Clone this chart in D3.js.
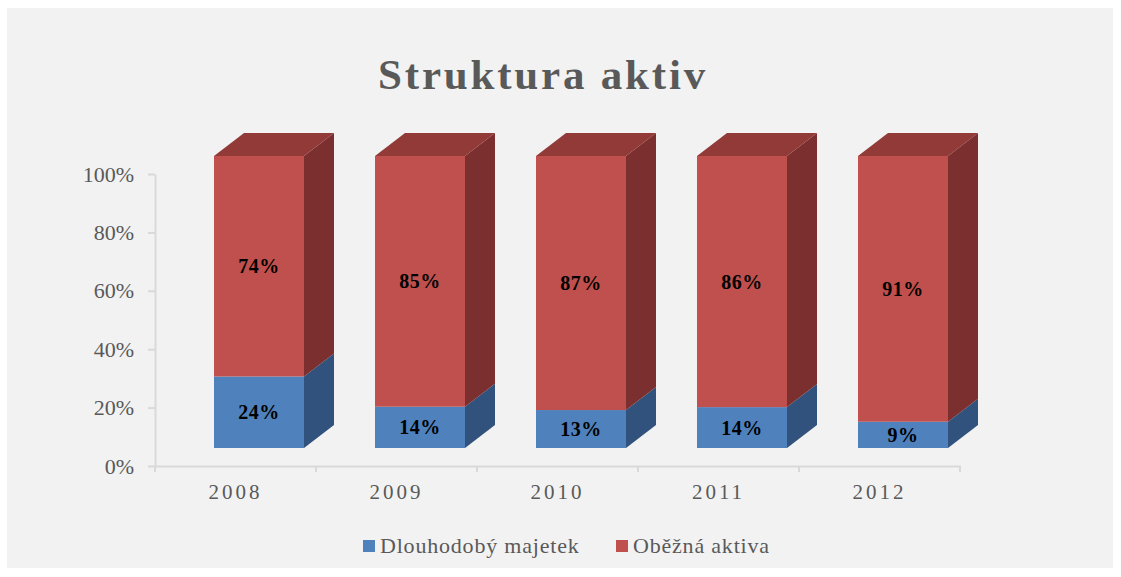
<!DOCTYPE html>
<html>
<head>
<meta charset="utf-8">
<script src="https://cdn.jsdelivr.net/npm/d3@7"></script>
<style>
    body { margin: 0; background: #fff; }
    svg { display: block; font-family: "Liberation Serif", "Times New Roman", serif; }
</style>
</head>
<body>
<svg></svg>
<script>
const roky = ["2008", "2009", "2010", "2011", "2012"]
const dlouhodobyMajetek = [24, 14, 13, 14, 9]
const obeznaAktiva = [74, 85, 87, 86, 91]
const serie = ["Dlouhodobý majetek", "Oběžná aktiva"]
const osaY = [0, 0.2, 0.4, 0.6, 0.8, 1]

const width = 1121
const height = 577
const svg = d3.select('svg')
    .attr("width", width)
    .attr("height", height)

// barvy: predni stena, bok, vrch
const barvy = {
    "Dlouhodobý majetek": { front: "#4f81bd", side: "#31527c", top: "#3d6596" },
    "Oběžná aktiva": { front: "#c0504d", side: "#7b2f2f", top: "#913a38" }
}

svg.append("rect")
    .attr("x", 7).attr("y", 8)
    .attr("width", 1106).attr("height", 560)
    .attr("fill", "#f2f2f2")

svg.append("text")
    .attr("x", 543).attr("y", 89)
    .attr("text-anchor", "middle")
    .attr("font-size", 43)
    .attr("font-weight", "bold")
    .attr("letter-spacing", 2.8)
    .attr("fill", "#595959")
    .text("Struktura aktiv")

const data = roky.map((rok, i) => ({
    rok: rok,
    "Dlouhodobý majetek": dlouhodobyMajetek[i],
    "Oběžná aktiva": obeznaAktiva[i]
}))

const stack = d3.stack()
    .keys(serie)
    .offset(d3.stackOffsetExpand)
const vrstvy = stack(data)

const x = d3.scaleBand()
    .domain(roky)
    .range([155, 960])

const y = d3.scaleLinear()
    .domain([0, 1])
    .range([466, 174])

// 3D posun
const hloubka = { dx: 30, dy: 23 }
const podlaha = { dx: 23.5, dy: -18 }
const sirka = 90

// osy
const gY = svg.append("g")
    .attr("transform", `translate(${x.range()[0]},0)`)
    .call(d3.axisLeft(y).tickValues(osaY).tickFormat(d3.format(".0%")).tickSize(7).tickSizeOuter(0).tickPadding(14))
gY.selectAll("text")
    .attr("font-size", 22)
    .attr("font-family", "Liberation Serif, serif")
    .attr("fill", "#595959")

const gX = svg.append("g")
    .attr("transform", `translate(0,${y(0)})`)
    .call(d3.axisBottom(x).tickSize(0).tickSizeOuter(0).tickPadding(18))
gX.selectAll("text")
    .attr("font-size", 21)
    .attr("font-family", "Liberation Serif, serif")
    .attr("letter-spacing", 3)
    .attr("fill", "#595959")

gX.selectAll(".hranice")
    .data([...roky.map(r => x(r)), x.range()[1]])
    .enter().append("line")
    .attr("class", "hranice")
    .attr("x1", d => d).attr("x2", d => d)
    .attr("y1", 0).attr("y2", 6)

svg.selectAll(".domain, .tick line, .hranice")
    .attr("stroke", "#d9d9d9")
    .attr("stroke-width", 2)

// sloupce
const fx0 = d => x(d.data.rok) + x.bandwidth() / 2 + podlaha.dx - sirka / 2
const fx1 = d => fx0(d) + sirka
const fy = v => y(v) + podlaha.dy

const skupiny = svg.selectAll(".vrstva")
    .data(vrstvy)
    .enter().append("g")
    .attr("class", "vrstva")

skupiny.selectAll(".bok")
    .data(v => v.map(d => ({ d: d, key: v.key })))
    .enter().append("polygon")
    .attr("fill", s => barvy[s.key].side)
    .attr("points", s => {
        const x1 = fx1(s.d), yb = fy(s.d[0]), yt = fy(s.d[1])
        return [[x1, yb], [x1 + hloubka.dx, yb - hloubka.dy], [x1 + hloubka.dx, yt - hloubka.dy], [x1, yt]].join(" ")
    })

skupiny.selectAll(".vrch")
    .data(v => v.filter(d => d[1] >= 0.999).map(d => ({ d: d, key: v.key })))
    .enter().append("polygon")
    .attr("fill", s => barvy[s.key].top)
    .attr("points", s => {
        const x0 = fx0(s.d), x1 = fx1(s.d), yt = fy(s.d[1])
        return [[x0, yt], [x0 + hloubka.dx, yt - hloubka.dy], [x1 + hloubka.dx, yt - hloubka.dy], [x1, yt]].join(" ")
    })

skupiny.selectAll(".predek")
    .data(v => v.map(d => ({ d: d, key: v.key })))
    .enter().append("rect")
    .attr("x", s => fx0(s.d))
    .attr("y", s => fy(s.d[1]))
    .attr("width", sirka)
    .attr("height", s => fy(s.d[0]) - fy(s.d[1]))
    .attr("fill", s => barvy[s.key].front)

skupiny.selectAll(".popisek")
    .data(v => v.map(d => ({ d: d, key: v.key })))
    .enter().append("text")
    .attr("x", s => fx0(s.d) + sirka / 2)
    .attr("y", s => (fy(s.d[0]) + fy(s.d[1])) / 2)
    .attr("dy", "0.35em")
    .attr("text-anchor", "middle")
    .attr("font-size", 20)
    .attr("font-weight", "bold")
    .attr("letter-spacing", 0.5)
    .attr("fill", "#000")
    .text(s => s.d.data[s.key] + "%")

// legenda
const legendaX = [363, 616]
const legenda = svg.selectAll(".legenda")
    .data(serie)
    .enter().append("g")
    .attr("class", "legenda")
    .attr("transform", (d, i) => `translate(${legendaX[i]},540)`)

legenda.append("rect")
    .attr("width", 12).attr("height", 12)
    .attr("fill", d => barvy[d].front)

legenda.append("text")
    .attr("x", 17).attr("y", 13)
    .attr("font-size", 22)
    .attr("letter-spacing", 0.8)
    .attr("fill", "#595959")
    .text(d => d)
</script>
</body>
</html>
